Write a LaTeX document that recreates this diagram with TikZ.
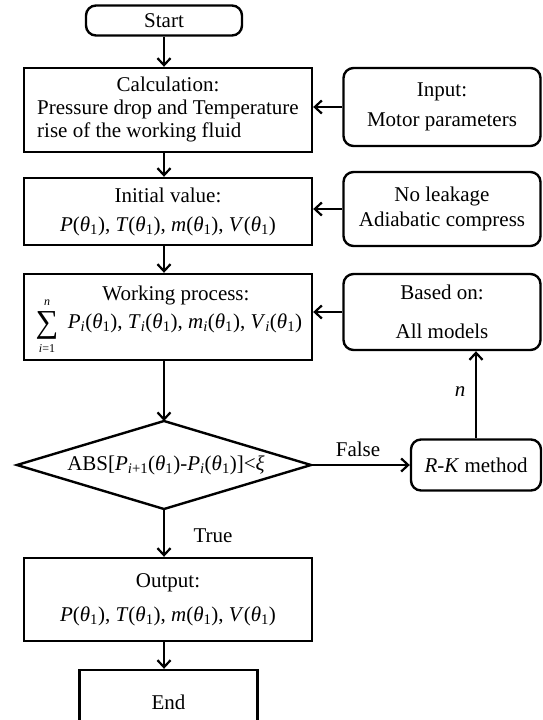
\documentclass[tikz,border=0pt]{standalone}
\usepackage{fontspec}
\setmainfont{Liberation Serif}
\usetikzlibrary{shapes.geometric,arrows.meta}
\newcommand{\sbs}[1]{\textsubscript{#1}}
\newcommand{\thone}{(\textit{θ}\sbs{1})}
\newcommand{\fourvars}{\textit{P}\thone, \textit{T}\thone, \textit{m}\thone, \textit{V}\thone}
\begin{document}
\begin{tikzpicture}[x=1pt,y=-1pt,
  font=\fontsize{21}{23}\selectfont,
  box/.style={draw, line width=2.4pt, rectangle, minimum width=288pt, inner sep=0pt, align=center},
  rbox/.style={draw, line width=2.4pt, rectangle, rounded corners=10pt, inner sep=0pt, align=center},
  side/.style={rbox, minimum width=197pt},
  arr/.style={-{Straight Barb[length=7pt,width=13pt,line width=2.2pt]}, line width=2.3pt},
  lab/.style={inner sep=0pt},
  small/.style={inner sep=0pt, font=\fontsize{12}{12}\selectfont}]
\useasboundingbox (0,0) rectangle (542,720);

\node[rbox, minimum width=156pt, minimum height=30pt] (start) at (164,20.5) {Start};

\node[box, minimum height=84pt] (calc) at (168,110)
  {\begin{tabular}{@{}l@{}}\multicolumn{1}{@{}c@{}}{Calculation:}\\Pressure drop and Temperature\\rise of the working fluid\end{tabular}};
\node[side, minimum height=78pt] (input) at (442,107) {Input:\\[7pt]Motor parameters};

\node[box, minimum height=67pt] (init) at (168,211.5) {Initial value:\\[6pt]\fourvars};
\node[side, minimum height=74pt] (leak) at (442,209) {No leakage\\[2pt]Adiabatic compress};

\node[box, minimum height=86pt] (work) at (168,317) {};
\node[lab] (wt1) at (176,295) {Working process:};
\node[lab] (wt2) at (185,323) {\textit{P}\sbs{\textit{i}}\thone, \textit{T}\sbs{\textit{i}}\thone, \textit{m}\sbs{\textit{i}}\thone, \textit{V}\sbs{\textit{i}}\thone};
\node[inner sep=0pt, font=\fontsize{32}{32}\selectfont] (sig) at (47,325) {∑};
\node[small] (sigup) at (47,303) {\textit{n}};
\node[small] (siglo) at (47,349) {\textit{i}=1};
\node[side, minimum height=76pt] (based) at (442,312) {Based on:\\[16pt]All models};

\coordinate (dT) at (164,421);
\coordinate (dB) at (164,509);
\coordinate (dL) at (17,465);
\coordinate (dR) at (311,465);
\draw[line width=2.4pt, line join=miter] (dT) -- (dR) -- (dB) -- (dL) -- cycle;
\node[inner sep=0pt] (cond) at (166,465)
  {ABS[\textit{P}\sbs{\textit{i}+1}\thone-\textit{P}\sbs{\textit{i}}\thone]<\textit{ξ}};
\node[rbox, minimum width=130pt, minimum height=51pt] (rk) at (476,465) {\textit{R}-\textit{K} method};

\node[box, minimum height=83pt] (out) at (168,599.5) {Output:\\[11pt]\fourvars};
\node[box, minimum width=178pt, minimum height=64pt] (end) at (168.5,702) {End};

\draw[arr] (start.south) -- (start.south |- calc.north);
\draw[arr] (start.south |- calc.south) -- (start.south |- init.north);
\draw[arr] (start.south |- init.south) -- (start.south |- work.north);
\draw[arr] (start.south |- work.south) -- (dT);
\draw[arr] (dB) -- (dB |- out.north);
\draw[arr] (dB |- out.south) -- (dB |- end.north);

\draw[arr] (input.west) -- (input.west -| calc.east);
\draw[arr] (leak.west) -- (leak.west -| init.east);
\draw[arr] (based.west) -- (based.west -| work.east);
\draw[arr] (dR) -- (rk.west);
\draw[arr] (rk.north) -- (rk.north |- based.south);

\node[lab] (false) at (358,449) {False};
\node[lab] (true) at (213,536) {True};
\node[lab] (nlab) at (460,392) {\textit{n}};
\end{tikzpicture}
\end{document}
